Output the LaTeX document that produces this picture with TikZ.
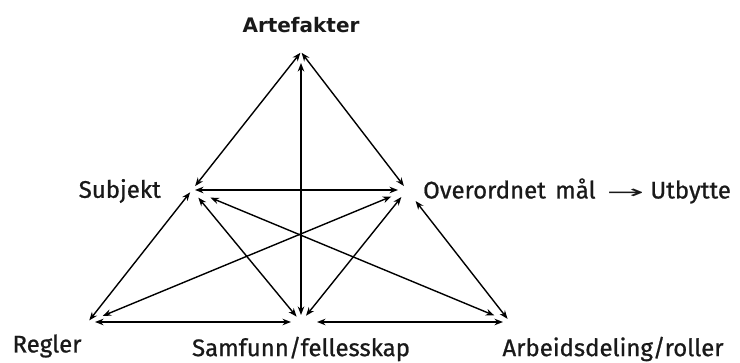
\documentclass[tikz,border=0pt]{standalone}
\usepackage{fontspec}
\setmainfont[FakeBold=0.8]{Fira Sans}
\newfontfamily\dejavu{DejaVu Sans}
\usetikzlibrary{arrows.meta}
\begin{document}
\begin{tikzpicture}[x=1pt,y=-1pt,
  conn/.style={{Stealth[length=8.5pt,width=6.5pt]}-{Stealth[length=8.5pt,width=6.5pt]}, line width=1.4pt, black},
  lbl/.style={font=\fontsize{24}{28}\selectfont, inner sep=0pt, text=black!90},
  toplbl/.style={font=\dejavu\bfseries\fontsize{20}{24}\selectfont, inner sep=0pt, text=black!90}]
\useasboundingbox[fill=white] (0,0) rectangle (740,363);
% points
\coordinate (A) at (301,52);
\coordinate (S) at (192,190);
\coordinate (O) at (407,190);
\coordinate (R) at (88,322);
\coordinate (F) at (301,322);
\coordinate (W) at (510,322);
% labels
\node[toplbl] (tA) at (301,25) {Artefakter};
\node[lbl, anchor=east] (tS) at (161,191) {Subjekt};
\node[lbl, anchor=west] (tO) at (423,191) {Over\-ordnet\hspace{3pt} mål\hspace{11pt}{\dejavu\fontsize{18}{20}\selectfont\scalebox{2.5}[1]{→}}\hspace{6pt}Utbytte};
\node[lbl] (tR) at (47,346) {Regler};
\node[lbl] (tF) at (301,349) {Samfunn/fellesskap};
\node[lbl] (tW) at (613,349) {Arbeidsdeling/roller};
% connectors
\draw[conn, shorten <=1pt, shorten >=5pt] (A) -- (S);
\draw[conn, shorten <=1pt, shorten >=5pt] (A) -- (O);
\draw[conn, shorten <=11pt, shorten >=7pt] (A) -- (F);
\draw[conn, shorten <=3pt, shorten >=9pt] (S) -- (O);
\draw[conn, shorten <=3pt, shorten >=2pt] (S) -- (R);
\draw[conn, shorten <=10pt, shorten >=7pt] (S) -- (F);
\draw[conn, shorten <=20pt, shorten >=17pt] (S) -- (W);
\draw[conn, shorten <=17pt, shorten >=16pt] (O) -- (R);
\draw[conn, shorten <=9pt, shorten >=8pt] (O) -- (F);
\draw[conn, shorten <=14pt, shorten >=4pt] (O) -- (W);
\draw[conn, shorten <=7pt, shorten >=10pt] (R) -- (F);
\draw[conn, shorten <=16pt, shorten >=7pt] (F) -- (W);
\end{tikzpicture}
\end{document}
